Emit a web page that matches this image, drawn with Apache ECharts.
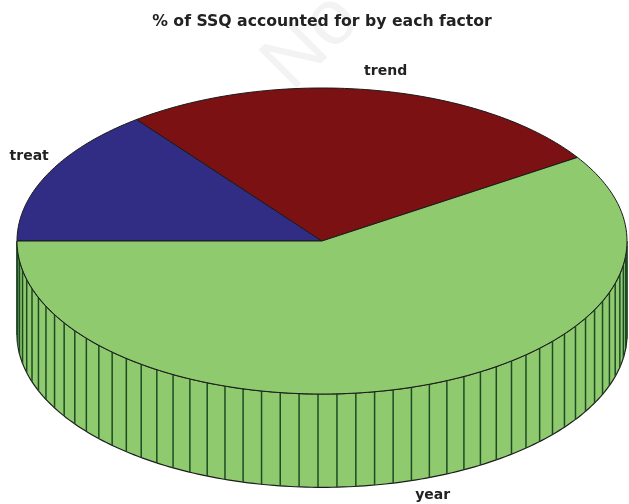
<!DOCTYPE html>
<html>
<head>
<meta charset="utf-8">
<style>html,body{margin:0;padding:0;background:#fff}#c{width:629px;height:504px}</style>
<script src="https://cdn.jsdelivr.net/npm/echarts@6/dist/echarts.min.js"></script>
</head>
<body>
<div id="c"></div>
<script>
const categories = ['treat', 'trend', 'year'];
const shares = [14.6, 26.2, 59.2];
const sliceColors = ['#322d84', '#7b1113', '#8fcb6e'];
const titleText = '% of SSQ accounted for by each factor';

const START_DEG = 180;        // clockwise from the left edge
const DEPTH = 0.61;           // wall height, in disc-radius units of y
const FACET_DEG = 3.56, FACET_PHASE = -0.75;
const LABEL_R = 1.1;
const labelNudge = [[8, -10], [7, -4], [15, 0]];
const total = shares.reduce((a, b) => a + b, 0);

function arcPts(api, a0, a1, dy) {
  const n = Math.max(2, Math.ceil(Math.abs(a1 - a0)));
  const pts = [];
  for (let i = 0; i <= n; i++) {
    const a = (a0 + (a1 - a0) * i / n) * Math.PI / 180;
    pts.push(api.coord([Math.cos(a), Math.sin(a) + dy]));
  }
  return pts;
}

function renderItem(params, api) {
  const idx = params.dataIndex;
  const share = api.value(1);
  let before = 0;
  for (let i = 0; i < idx; i++) before += shares[i];
  const a0 = START_DEG - before / total * 360;
  const a1 = a0 - share / total * 360;
  const color = sliceColors[idx];
  const children = [];

  // wall: the part of the arc in the front half (angles below 0 degrees)
  const w0 = Math.min(a0, 0), w1 = Math.max(a1, -180);
  if (w0 > w1) {
    const top = arcPts(api, w0, w1, 0);
    const bottom = arcPts(api, w1, w0, -DEPTH);
    children.push({
      type: 'polygon',
      shape: { points: top.concat(bottom) },
      style: { fill: color, stroke: '#1c1c1c', lineWidth: 1.2 }
    });
    for (let k = -60; k < 60; k++) {
      const a = -90 + FACET_PHASE + k * FACET_DEG;
      if (a >= w0 || a <= w1) continue;
      const r = a * Math.PI / 180;
      const p = api.coord([Math.cos(r), Math.sin(r)]);
      const q = api.coord([Math.cos(r), Math.sin(r) - DEPTH]);
      children.push({
        type: 'line',
        shape: { x1: p[0], y1: p[1], x2: q[0], y2: q[1] },
        style: { stroke: '#1d4a24', lineWidth: 1.5 }
      });
    }
  }

  // top face
  const c = api.coord([0, 0]);
  children.push({
    type: 'polygon',
    shape: { points: [c].concat(arcPts(api, a0, a1, 0)) },
    style: { fill: color, stroke: '#1a1a1a', lineWidth: 1 }
  });

  // name label
  const mid = (a0 + a1) / 2 * Math.PI / 180;
  const dy = Math.sin(mid) < 0 ? -DEPTH : 0;
  const lp = api.coord([LABEL_R * Math.cos(mid), LABEL_R * Math.sin(mid) + dy]);
  children.push({
    type: 'text',
    x: lp[0] + labelNudge[idx][0],
    y: lp[1] + labelNudge[idx][1],
    style: {
      text: categories[idx],
      fill: '#222',
      font: 'bold 14px "DejaVu Sans"',
      align: 'center',
      verticalAlign: 'middle'
    }
  });
  return { type: 'group', children };
}

const chart = echarts.init(document.getElementById('c'), null, { renderer: 'canvas' });
chart.setOption({
  animation: false,
  backgroundColor: '#fff',
  title: {
    text: titleText,
    left: 317,
    top: 9,
    textAlign: 'center',
    textStyle: { fontFamily: 'DejaVu Sans', fontWeight: 'bold', fontSize: 15.7, color: '#222' }
  },
  graphic: [{
    type: 'text',
    x: 312, y: 42,
    rotation: Math.PI / 4,
    z: -1,
    style: {
      text: 'No',
      fill: '#f3f3f3',
      font: '78px "Liberation Sans"',
      align: 'center',
      verticalAlign: 'middle'
    }
  }],
  grid: { left: 17, top: 88, width: 610, height: 306 * (1 + DEPTH / 2) },
  xAxis: { type: 'value', min: -1, max: 1, show: false },
  yAxis: { type: 'value', min: -1 - DEPTH, max: 1, show: false },
  series: [{
    type: 'custom',
    coordinateSystem: 'cartesian2d',
    clip: false,
    silent: true,
    encode: { x: 0, y: 0 },
    renderItem,
    data: shares.map((s, i) => [i, s])
  }]
});
</script>
</body>
</html>
